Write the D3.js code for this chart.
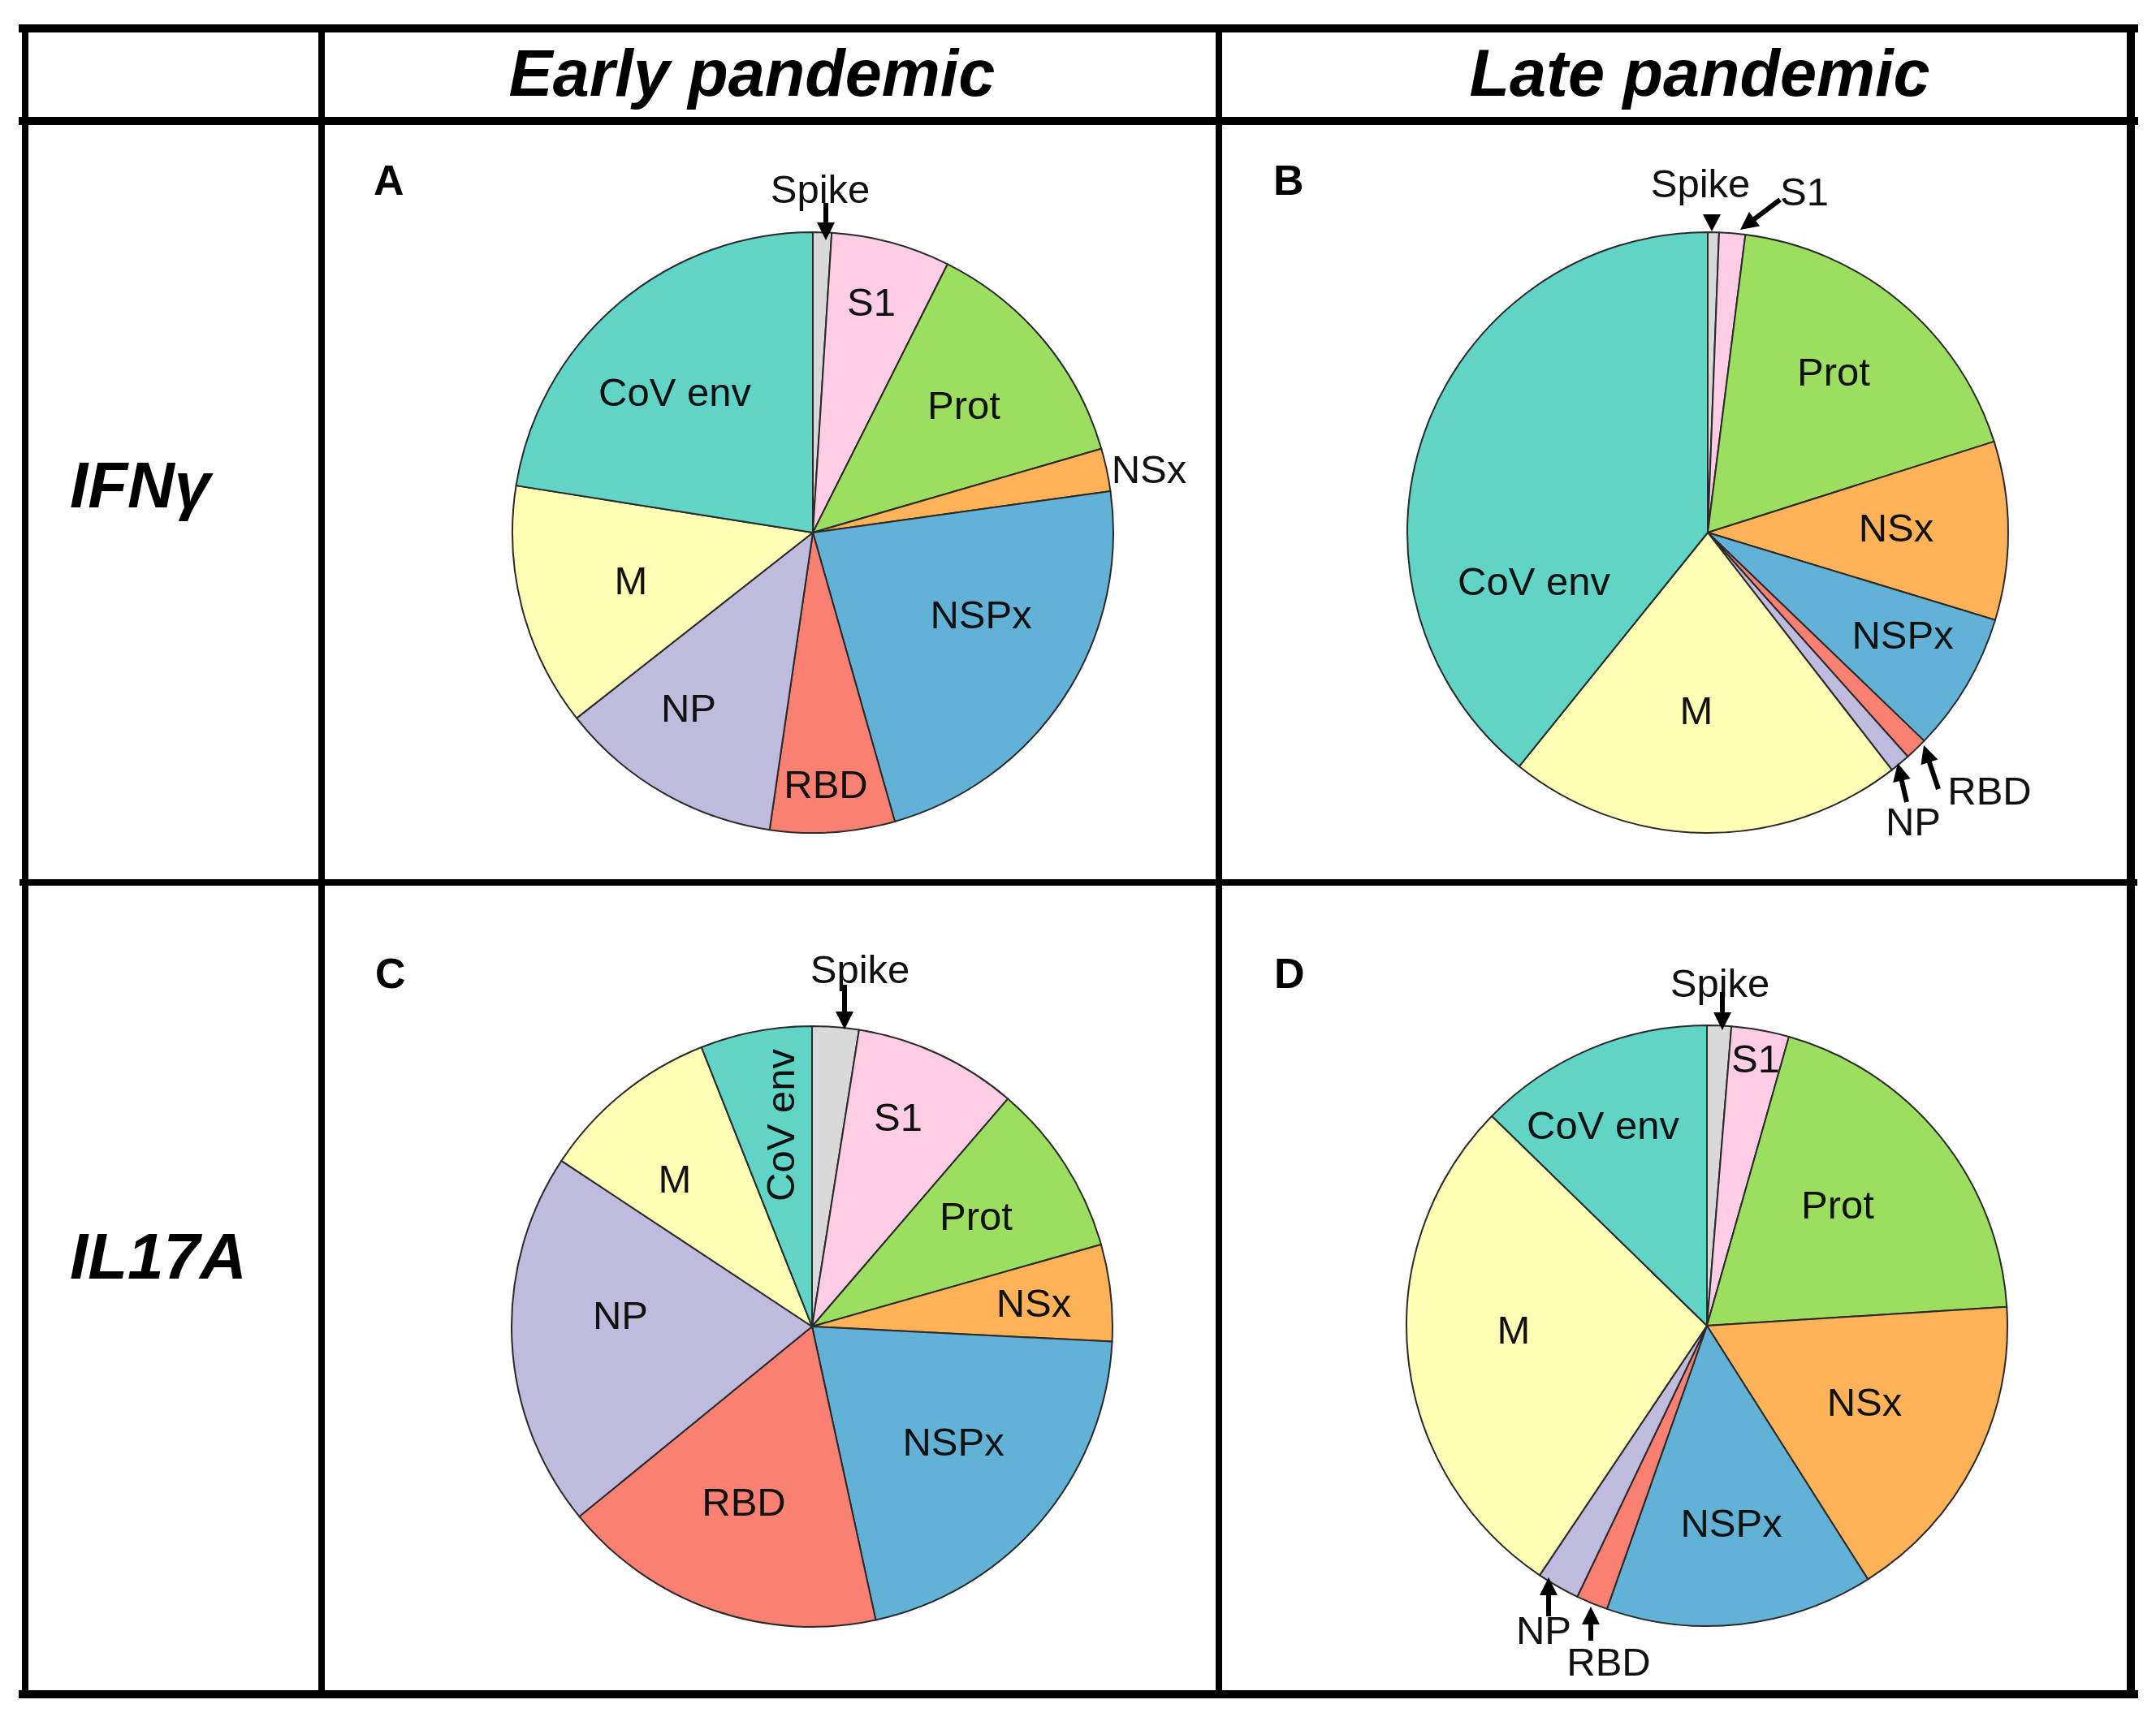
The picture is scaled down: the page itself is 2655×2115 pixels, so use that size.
<!DOCTYPE html>
<html>
<head>
<meta charset="utf-8">
<script src="https://cdn.jsdelivr.net/npm/d3@7"></script>
<style>
  html, body { margin: 0; padding: 0; background: #ffffff; }
  svg { display: block; }
  text { font-family: "Liberation Sans", Arial, Helvetica, sans-serif; }
</style>
</head>
<body>
<svg id="chart" width="2655" height="2115"></svg>
<script>
// ---------------- DATA ----------------
const categories = ["Spike", "S1", "Prot", "NSx", "NSPx", "RBD", "NP", "M", "CoV env"];
// percentage of responses per antigen
const ifngEarly  = [1.0, 6.4, 13.1, 2.3, 22.8, 6.7, 12.1, 13.1, 22.5];
const ifngLate   = [0.6, 1.4, 18.1, 9.6, 7.5, 1.2, 1.1, 21.3, 39.2];
const il17Early  = [2.5, 8.8, 9.3, 5.2, 20.8, 17.5, 20.2, 9.7, 6.0];
const il17Late   = [1.3, 3.1, 19.6, 17.0, 14.4, 1.7, 2.3, 27.9, 12.7];

const columnHeaders = ["Early pandemic", "Late pandemic"];
const rowHeaders = ["IFNγ", "IL17A"];
const panelLetters = ["A", "B", "C", "D"];

// ---------------- STYLE / LAYOUT ----------------
const colors = ["#d9d9d9", "#ffcce6", "#9cde5f", "#ffb257", "#62b1d6", "#fa8072", "#bfbbde", "#ffffb5", "#5fd4c7"];
const color = d3.scaleOrdinal().domain(categories).range(colors);

const svg = d3.select("#chart");
const R = 370;
const labelFont = 49;

const panels = [
  { values: ifngEarly, cx: 1001, cy: 656, letter: [460, 240],
    labels: { "Spike": [9, -424], "S1": [72, -285], "Prot": [186, -158], "NSx": [414, -79],
              "NSPx": [207, 100], "RBD": [16, 309], "NP": [-153, 215], "M": [-224, 58], "CoV env": [-170, -174] },
    arrows: [ [16, -406, 16, -360] ] },
  { values: ifngLate, cx: 2103, cy: 656, letter: [1568, 240],
    labels: { "Spike": [-9, -431], "S1": [119, -421], "Prot": [155, -199], "NSx": [232, -7],
              "NSPx": [240, 125], "RBD": [347, 317], "NP": [253, 355], "M": [-14, 218], "CoV env": [-214, 59] },
    arrows: [ [5, -392, 5, -371], [89, -410, 40, -373], [284, 316, 266, 262], [245, 332, 234, 284] ] },
  { values: il17Early, cx: 1000, cy: 1634, letter: [462, 1217],
    labels: { "Spike": [59, -441], "S1": [106, -259], "Prot": [202, -137], "NSx": [273, -30],
              "NSPx": [174, 141], "RBD": [-84, 215], "NP": [-236, -15], "M": [-169, -183], "CoV env": [-40, -248] },
    rotated: { "CoV env": -90 },
    arrows: [ [40, -421, 40, -366] ] },
  { values: il17Late, cx: 2102, cy: 1633, letter: [1569, 1217],
    labels: { "Spike": [16, -423], "S1": [60, -330], "Prot": [161, -150], "NSx": [194, 93],
              "NSPx": [30, 242], "RBD": [-121, 413], "NP": [-201, 374], "M": [-238, 4], "CoV env": [-128, -248] },
    arrows: [ [19, -411, 19, -364], [-195, 358, -195, 310], [-143, 388, -143, 346] ] }
];

// ---------------- TABLE GRID ----------------
const grid = svg.append("g").attr("stroke", "#000").attr("stroke-linecap", "square");
const hLines = [ [35, 10], [149, 10], [1087, 8], [2087, 10] ];
hLines.forEach(([y, w]) => grid.append("line").attr("x1", 28).attr("x2", 2628).attr("y1", y).attr("y2", y).attr("stroke-width", w));
const vLines = [ [31, 8], [396, 8], [1501, 8], [2624, 10] ];
vLines.forEach(([x, w]) => grid.append("line").attr("x1", x).attr("x2", x).attr("y1", 35).attr("y2", 2087).attr("stroke-width", w));

// headers
const headerX = [926, 2093];
svg.selectAll("text.colhead").data(columnHeaders).join("text")
  .attr("class", "colhead")
  .attr("x", (d, i) => headerX[i]).attr("y", 118)
  .attr("text-anchor", "middle")
  .attr("font-size", 81).attr("font-weight", "bold").attr("font-style", "italic")
  .attr("fill", "#000").text(d => d);

const rowY = [625, 1575];
svg.selectAll("text.rowhead").data(rowHeaders).join("text")
  .attr("class", "rowhead")
  .attr("x", 86).attr("y", (d, i) => rowY[i])
  .attr("font-size", 80).attr("font-weight", "bold").attr("font-style", "italic")
  .attr("fill", "#000").text(d => d);

// ---------------- PIES ----------------
const pie = d3.pie().sort(null).value(d => d.value);
const arc = d3.arc().innerRadius(0).outerRadius(R);

function arrowPath(x1, y1, x2, y2) {
  const ang = Math.atan2(y2 - y1, x2 - x1);
  const len = Math.hypot(x2 - x1, y2 - y1);
  const headL = Math.min(22, len), headW = 11;
  const bx = x2 - headL * Math.cos(ang), by = y2 - headL * Math.sin(ang);
  const px = -Math.sin(ang), py = Math.cos(ang);
  return `M${bx + px * headW},${by + py * headW}L${x2},${y2}L${bx - px * headW},${by - py * headW}Z`;
}

panels.forEach((p, pi) => {
  const data = categories.map((c, i) => ({ name: c, value: p.values[i] }));
  const g = svg.append("g").attr("transform", `translate(${p.cx},${p.cy})`);

  g.selectAll("path.slice").data(pie(data)).join("path")
    .attr("class", "slice")
    .attr("d", arc)
    .attr("fill", d => color(d.data.name))
    .attr("stroke", "#2a2a2a").attr("stroke-width", 2).attr("stroke-linejoin", "round");

  g.selectAll("text.lbl").data(data).join("text")
    .attr("class", "lbl")
    .attr("transform", d => {
      const [x, y] = p.labels[d.name];
      const rot = p.rotated && p.rotated[d.name] ? ` rotate(${p.rotated[d.name]})` : "";
      return `translate(${x},${y})${rot}`;
    })
    .attr("text-anchor", "middle").attr("dy", "0.36em")
    .attr("font-size", labelFont).attr("fill", "#111")
    .text(d => d.name);

  (p.arrows || []).forEach(([x1, y1, x2, y2]) => {
    const len = Math.hypot(x2 - x1, y2 - y1);
    if (len > 24) {
      const ang = Math.atan2(y2 - y1, x2 - x1);
      g.append("line").attr("x1", x1).attr("y1", y1)
        .attr("x2", x2 - 18 * Math.cos(ang)).attr("y2", y2 - 18 * Math.sin(ang))
        .attr("stroke", "#000").attr("stroke-width", 6);
    }
    g.append("path").attr("d", arrowPath(x1, y1, x2, y2)).attr("fill", "#000");
  });

  svg.append("text").attr("x", p.letter[0]).attr("y", p.letter[1])
    .attr("font-size", 52).attr("font-weight", "bold").attr("fill", "#000")
    .text(panelLetters[pi]);
});
</script>
</body>
</html>
